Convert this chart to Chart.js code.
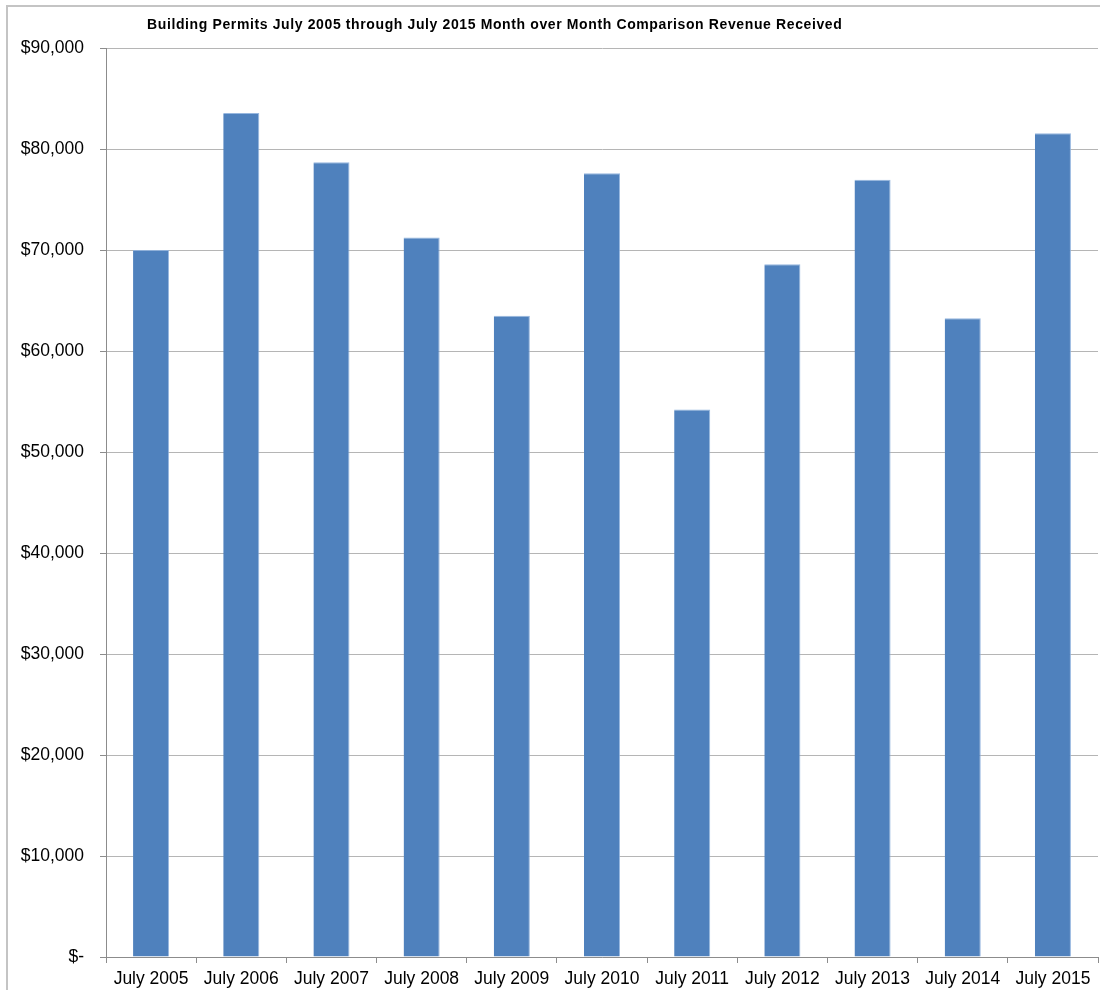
<!DOCTYPE html>
<html>
<head>
<meta charset="utf-8">
<script src="https://cdn.jsdelivr.net/npm/chart.js@4.4.1/dist/chart.umd.min.js"></script>
<style>
    html, body { margin: 0; padding: 0; background: #fff; }
    #wrap { position: relative; width: 1100px; height: 990px; overflow: hidden; }
    #frame {
        position: absolute; left: 6px; top: 5px; width: 1200px; height: 1100px;
        border-left: 2px solid #c4c4c4; border-top: 2px solid #c4c4c4;
    }
    #title {
        position: absolute; left: 147px; top: 16px;
        font: bold 14px "Liberation Sans", Arial, sans-serif; color: #000; white-space: nowrap;
        letter-spacing: 0.62px;
    }
    canvas { position: absolute; left: 0; top: 0; }
</style>
</head>
<body>
<div id="wrap">
    <div id="frame"></div>
    <canvas id="permisos" width="1100" height="990"></canvas>
    <div id="title">Building Permits July 2005 through July 2015 Month over Month Comparison Revenue Received</div>
</div>
<script>
// ── Ingresos por permisos de construcción, julio de cada año ──────────────

const meses = [
    "July 2005", "July 2006", "July 2007", "July 2008", "July 2009", "July 2010",
    "July 2011", "July 2012", "July 2013", "July 2014", "July 2015",
];

const ingresos = [70000, 83560, 78680, 71250, 63500, 77600, 54200, 68600, 76960, 63240, 81550];

const ejeY = { min: 0, max: 90000, paso: 10000 };

const fuente = "'Liberation Sans', Arial, sans-serif";

new Chart(document.getElementById("permisos"), {
    type: "bar",
    data: {
        labels: meses,
        datasets: [
            {
                label: "Revenue Received",
                data: ingresos,
                backgroundColor: "#4f81bd",
                borderColor: "rgba(140,175,220,0.9)",
                borderWidth: { top: 1, right: 1, left: 0, bottom: 0 },
                borderSkipped: false,
                barPercentage: 0.4,
                categoryPercentage: 1.0,
            },
        ],
    },
    options: {
        responsive: false,
        animation: false,
        layout: { padding: { top: 48, right: 2, left: 0, bottom: 0 } },
        plugins: {
            legend: { display: false },
            tooltip: { enabled: false },
        },
        scales: {
            x: {
                grid: {
                    offset: true,
                    drawOnChartArea: false,
                    drawTicks: true,
                    tickLength: 6,
                    color: "#8c8c8c",
                },
                border: { color: "#8c8c8c", width: 1 },
                ticks: {
                    font: { family: fuente, size: 17.5 },
                    color: "#000",
                    padding: 6,
                    maxRotation: 0,
                    autoSkip: false,
                },
                afterFit: function (escala) { escala.height = 33; },
            },
            y: {
                min: ejeY.min,
                max: ejeY.max,
                grid: {
                    color: "#b5b5b5",
                    tickLength: 6,
                    tickColor: "#8c8c8c",
                },
                border: { color: "#8c8c8c", width: 1 },
                ticks: {
                    stepSize: ejeY.paso,
                    font: { family: fuente, size: 17.5 },
                    color: "#000",
                    padding: 16,
                    callback: function (valor) {
                        return valor === 0 ? "$-" : "$" + valor.toLocaleString("en-US");
                    },
                },
                afterFit: function (escala) { escala.width = 106; },
            },
        },
    },
});
</script>
</body>
</html>
